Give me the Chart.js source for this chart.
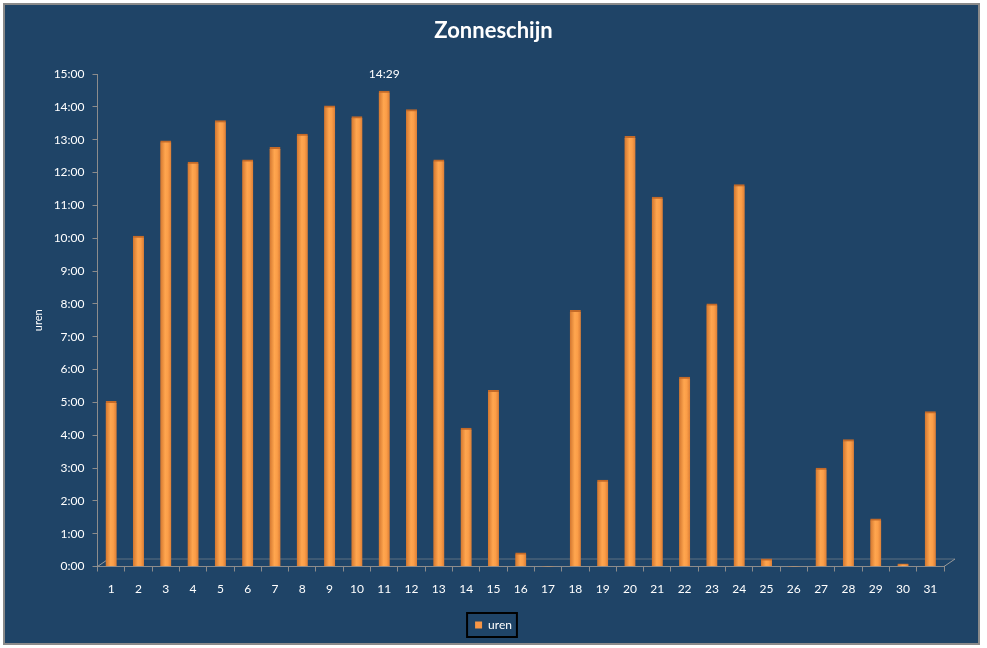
<!DOCTYPE html>
<html>
<head>
<meta charset="utf-8">
<script src="https://cdn.jsdelivr.net/npm/chart.js@4.4.1/dist/chart.umd.min.js"></script>
<style>
  html, body { margin: 0; padding: 0; background: #ffffff; }
  #wrap { width: 987px; height: 648px; position: relative; }
</style>
</head>
<body>
<div id="wrap"><canvas id="c"></canvas></div>
<script>
// Days of the month
const categories = ['1','2','3','4','5','6','7','8','9','10','11','12','13','14','15','16','17','18','19','20','21','22','23','24','25','26','27','28','29','30','31'];
// Sunshine duration per day, in minutes
const sunMinutes = [302, 604, 778, 739, 815, 743, 766, 790, 842, 822, 869, 835, 743, 253, 322, 25, 0, 468, 158, 786, 675, 346, 480, 698, 14, 0, 180, 232, 87, 5, 283];
// Y tick values (minutes)
const yTickMin = 0, yTickMax = 900, yTickStep = 60;
const seriesName = 'uren';
const chartTitle = 'Zonneschijn';

function fmt(min) {
  const h = Math.floor(min / 60);
  const m = Math.round(min % 60);
  return h + ':' + (m < 10 ? '0' : '') + m;
}

const FONT = 'Lato, "Open Sans", sans-serif';

const panelPlugin = {
  id: 'panel',
  beforeDraw(chart) {
    const c = chart.ctx;
    c.save();
    c.fillStyle = '#ffffff';
    c.fillRect(0, 0, chart.width, chart.height);
    c.fillStyle = '#8a8a8a';
    c.fillRect(3, 3, 977, 642);
    c.fillStyle = '#1f4467';
    c.fillRect(5, 5, 973, 638);
    c.restore();
  }
};

const floorPlugin = {
  id: 'floor',
  beforeDatasetsDraw(chart) {
    const c = chart.ctx;
    const a = chart.chartArea;
    c.save();
    c.strokeStyle = '#9a9a9a';
    c.lineWidth = 1;
    c.setLineDash([1, 1]);
    c.beginPath();
    c.moveTo(a.left + 11, a.bottom - 7.5);
    c.lineTo(a.right + 11, a.bottom - 7.5);
    c.stroke();
    c.setLineDash([]);
    c.beginPath();
    c.moveTo(a.left, a.bottom);
    c.lineTo(a.left + 11, a.bottom - 7.5);
    c.moveTo(a.right, a.bottom);
    c.lineTo(a.right + 11, a.bottom - 7.5);
    c.stroke();
    c.restore();
  }
};

const maxLabelPlugin = {
  id: 'maxLabel',
  afterDatasetsDraw(chart) {
    const meta = chart.getDatasetMeta(0);
    const data = chart.data.datasets[0].data;
    let idx = 0;
    data.forEach((v, i) => { if (v > data[idx]) idx = i; });
    const bar = meta.data[idx];
    const c = chart.ctx;
    c.save();
    c.fillStyle = '#ffffff';
    c.font = '12px ' + FONT;
    c.textAlign = 'center';
    c.textBaseline = 'middle';
    c.fillText(fmt(data[idx]), bar.x, bar.y - 17);
    c.restore();
  }
};

const legendBoxPlugin = {
  id: 'legendBox',
  afterDraw(chart) {
    const lg = chart.legend;
    if (!lg || !lg.legendHitBoxes || !lg.legendHitBoxes.length) return;
    const hb = lg.legendHitBoxes[0];
    const cy = hb.top + hb.height / 2;
    const c = chart.ctx;
    c.save();
    c.strokeStyle = '#000000';
    c.lineWidth = 2;
    c.strokeRect(hb.left - 8, cy - 12, hb.width + 13, 24);
    c.restore();
  }
};

new Chart(document.getElementById('c'), {
  type: 'bar',
  data: {
    labels: categories,
    datasets: [{
      label: seriesName,
      data: sunMinutes,
      barThickness: 11,
      backgroundColor: (ctx) => {
        const chart = ctx.chart;
        if (!chart.chartArea || ctx.type !== 'data') return '#F79646';
        const x = chart.scales.x.getPixelForValue(ctx.dataIndex);
        const g = chart.ctx.createLinearGradient(x - 5.5, 0, x + 5.5, 0);
        g.addColorStop(0, '#D2762F');
        g.addColorStop(0.45, '#FFA64F');
        g.addColorStop(0.7, '#FB9E48');
        g.addColorStop(1, '#DB7E36');
        return g;
      },
      borderColor: '#C46A28',
      borderWidth: { top: 2, left: 0, right: 0, bottom: 0 },
      borderSkipped: 'bottom'
    }]
  },
  options: {
    responsive: true,
    maintainAspectRatio: false,
    animation: false,
    devicePixelRatio: 1,
    layout: { padding: { left: 0, right: 0, top: 0, bottom: 7 } },
    plugins: {
      title: {
        display: true,
        text: chartTitle,
        color: '#ffffff',
        font: { family: FONT, size: 22, weight: 'bold' },
        padding: { top: 17.8, bottom: 29.8 }
      },
      legend: {
        display: true,
        position: 'bottom',
        labels: {
          color: '#ffffff',
          font: { family: FONT, size: 12 },
          boxWidth: 7,
          boxHeight: 7,
          padding: 10,
          generateLabels(chart) {
            return [{
              text: seriesName,
              fillStyle: '#F79646',
              strokeStyle: '#F79646',
              lineWidth: 0,
              fontColor: '#ffffff',
              datasetIndex: 0
            }];
          }
        }
      },
      tooltip: { enabled: false }
    },
    scales: {
      x: {
        grid: { display: true, drawOnChartArea: false, drawTicks: true, tickLength: 5, color: '#8c8c8c', offset: true },
        border: { display: true, color: '#8c8c8c' },
        ticks: { color: '#ffffff', font: { family: FONT, size: 12 }, padding: 10, maxRotation: 0, autoSkip: false },
        afterFit(scale) { scale.height = 42.5; }
      },
      y: {
        min: yTickMin,
        max: yTickMax,
        grid: { display: true, drawOnChartArea: false, drawTicks: true, tickLength: 5, color: '#8c8c8c' },
        border: { display: true, color: '#8c8c8c' },
        ticks: {
          stepSize: yTickStep,
          color: '#ffffff',
          font: { family: FONT, size: 12 },
          padding: 8,
          callback: (v) => fmt(v)
        },
        title: {
          display: true,
          text: seriesName,
          color: '#ffffff',
          font: { family: FONT, size: 11 },
          padding: { top: 31.7, bottom: 0 }
        },
        afterFit(scale) { scale.width = 97.5; }
      },
      yRight: {
        position: 'right',
        display: true,
        min: yTickMin,
        max: yTickMax,
        grid: { display: false },
        border: { display: false },
        ticks: { display: false },
        afterFit(scale) { scale.width = 43; }
      }
    }
  },
  plugins: [panelPlugin, floorPlugin, maxLabelPlugin, legendBoxPlugin]
});
</script>
</body>
</html>
